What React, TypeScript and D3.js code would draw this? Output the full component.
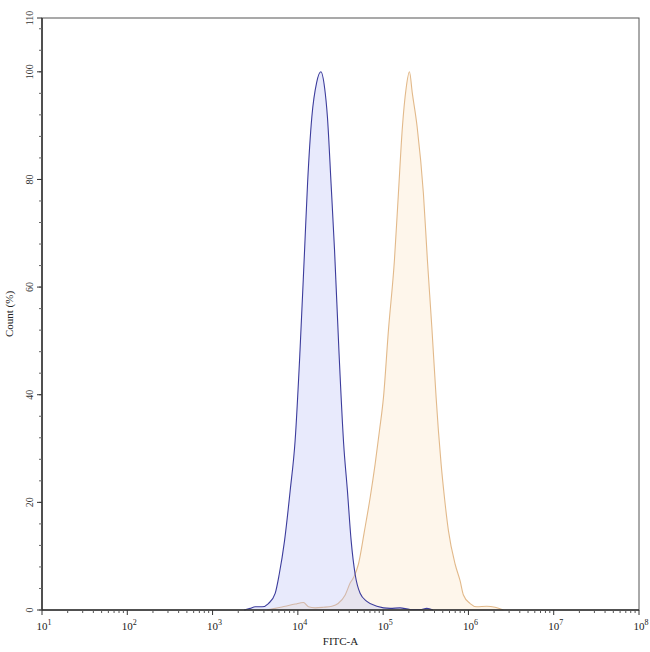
import { useEffect, useRef } from 'react';
import * as d3 from 'd3';

// FITC-A intensity and count (%)
const controlFitc = [2340, 2760, 3160, 3810, 4520, 5420, 6040, 6970, 8130, 9290, 10600, 12000, 13000, 14600, 16600, 18600, 20600, 22200, 24500, 26900, 30300, 34400, 38100, 42200, 47000, 53700, 64400, 84300, 121000, 158000, 207000, 272000, 325000, 385000];
const controlCount = [0, 0.3, 0.6, 0.6, 1.2, 3.1, 6.6, 12.8, 22.2, 31.5, 48.2, 67, 79.3, 91.7, 98, 100, 97, 91.7, 79.3, 67, 48.2, 31, 22.2, 12.8, 6.6, 3.1, 1.6, 0.7, 0.3, 0.4, 0.1, 0.1, 0.3, 0];

const stainedFitc = [4340, 5420, 7100, 9290, 11640, 13300, 15960, 19820, 25060, 29650, 35890, 41020, 45500, 51290, 60390, 70450, 80540, 90520, 100900, 115400, 135600, 151000, 168300, 186200, 203400, 220000, 250300, 296600, 330400, 372200, 418000, 444700, 478400, 523400, 583300, 698800, 799400, 873400, 1047000, 1254000, 1642000, 2056000, 2570000];
const stainedCount = [0, 0.3, 0.7, 1.1, 1.4, 0.6, 0.4, 0.5, 0.7, 1.2, 2.8, 5, 6.2, 8.5, 14.7, 20.9, 27.1, 33.3, 39.5, 52, 65, 77.4, 89.8, 97, 100, 96, 89.8, 77.4, 65, 52.6, 39.5, 33.3, 27.1, 20.9, 14.7, 8.5, 5.4, 2.8, 1.2, 0.6, 0.7, 0.5, 0];

const xExponents = [1, 2, 3, 4, 5, 6, 7, 8];
const yTicks = [0, 20, 40, 60, 80, 100, 110];

const App = () => {
  const ref = useRef(null);

  useEffect(() => {
    const width = 650;
    const height = 652;
    const margin = { top: 18, right: 11, bottom: 42, left: 42 };

    const svg = d3.select(ref.current)
      .attr('width', width)
      .attr('height', height)
      .style('background-color', '#fff')
      .style('font-family', '"Liberation Serif", serif');

    svg.selectAll('*').remove();

    const x = d3.scaleLog()
      .domain([1e1, 1e8])
      .range([margin.left, width - margin.right]);

    const y = d3.scaleLinear()
      .domain([0, 110])
      .range([height - margin.bottom, margin.top]);

    const series = [
      { xs: stainedFitc, ys: stainedCount, stroke: '#e2b98a', fill: 'rgba(252,232,205,0.4)' },
      { xs: controlFitc, ys: controlCount, stroke: '#3c3c9c', fill: 'rgba(178,185,245,0.3)' },
    ];

    const area = d3.area()
      .x((d) => x(d[0]))
      .y0(y(0))
      .y1((d) => y(d[1]))
      .curve(d3.curveMonotoneX);

    const line = d3.line()
      .x((d) => x(d[0]))
      .y((d) => y(d[1]))
      .curve(d3.curveMonotoneX);

    series.forEach((s) => {
      const pts = s.xs.map((v, i) => [v, s.ys[i]]);
      svg.append('path')
        .attr('d', area(pts))
        .attr('fill', s.fill);
      svg.append('path')
        .attr('d', line(pts))
        .attr('fill', 'none')
        .attr('stroke', s.stroke)
        .attr('stroke-width', 1.1);
    });

    /** Frame */
    svg.append('rect')
      .attr('x', x(1e1))
      .attr('y', y(110))
      .attr('width', x(1e8) - x(1e1))
      .attr('height', y(0) - y(110))
      .attr('fill', 'none')
      .attr('stroke', '#555')
      .attr('stroke-width', 1);

    svg.append('line')
      .attr('x1', x(1e1)).attr('x2', x(1e8))
      .attr('y1', y(0)).attr('y2', y(0))
      .attr('stroke', '#333')
      .attr('stroke-width', 1.5);

    svg.append('line')
      .attr('x1', x(1e1)).attr('x2', x(1e1))
      .attr('y1', y(0)).attr('y2', y(110))
      .attr('stroke', '#333')
      .attr('stroke-width', 1.5);

    /** X axis */
    const minor = [];
    xExponents.slice(0, -1).forEach((e) => {
      for (let k = 2; k < 10; k++) minor.push(k * 10 ** e);
    });

    svg.selectAll('.x-minor')
      .data(minor)
      .join('line')
      .attr('x1', (d) => x(d)).attr('x2', (d) => x(d))
      .attr('y1', y(0)).attr('y2', y(0) + 3)
      .attr('stroke', '#555');

    svg.selectAll('.x-major')
      .data(xExponents)
      .join('line')
      .attr('x1', (d) => x(10 ** d)).attr('x2', (d) => x(10 ** d))
      .attr('y1', y(0)).attr('y2', y(0) + 5)
      .attr('stroke', '#333');

    const xl = svg.selectAll('.x-label')
      .data(xExponents)
      .join('text')
      .attr('x', (d) => x(10 ** d) + 2)
      .attr('y', y(0) + 20)
      .attr('text-anchor', 'middle')
      .attr('font-size', '11px')
      .attr('fill', '#222');
    xl.append('tspan').text('10');
    xl.append('tspan')
      .attr('dy', -5)
      .attr('font-size', '8px')
      .text((d) => d);

    svg.append('text')
      .attr('x', x(10 ** 4.5))
      .attr('y', 645)
      .attr('text-anchor', 'middle')
      .attr('font-size', '11px')
      .attr('fill', '#222')
      .text('FITC-A');

    /** Y axis */
    svg.selectAll('.y-minor')
      .data(d3.range(0, 110, 4))
      .join('line')
      .attr('x1', x(1e1) - 3).attr('x2', x(1e1))
      .attr('y1', (d) => y(d)).attr('y2', (d) => y(d))
      .attr('stroke', '#666');

    svg.selectAll('.y-major')
      .data(yTicks)
      .join('line')
      .attr('x1', x(1e1) - 5).attr('x2', x(1e1))
      .attr('y1', (d) => y(d)).attr('y2', (d) => y(d))
      .attr('stroke', '#333');

    svg.selectAll('.y-label')
      .data(yTicks)
      .join('text')
      .attr('transform', (d) => `translate(${x(1e1) - 9},${y(d)}) rotate(-90)`)
      .attr('text-anchor', 'middle')
      .attr('font-size', '10px')
      .attr('fill', '#333')
      .text((d) => d);

    svg.append('text')
      .attr('transform', `translate(13,${(y(0) + y(110)) / 2}) rotate(-90)`)
      .attr('text-anchor', 'middle')
      .attr('font-size', '11px')
      .attr('fill', '#222')
      .text('Count  (%)');
  }, []);

  return (
    <div style={{ position: 'absolute', left: 0, top: 0 }}>
      <svg ref={ref}></svg>
    </div>
  );
};

export default App;
